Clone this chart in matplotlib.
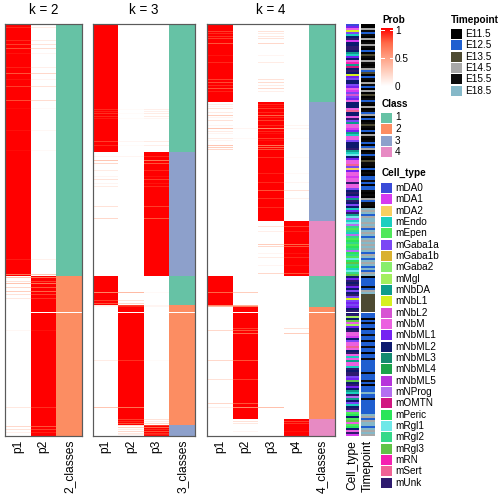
import numpy as np
import matplotlib
matplotlib.use('Agg')
import matplotlib.pyplot as plt
from matplotlib.colors import LinearSegmentedColormap, to_rgb
from matplotlib.patches import Rectangle

plt.rcParams['font.family'] = ['Liberation Sans', 'DejaVu Sans']

# ---------------- data ----------------
TOP, BOTTOM = 24, 436          # row span of the heatmaps (one row per pixel row)
N_ROWS = BOTTOM - TOP
WHITE_ROW = 312                 # a blank sample row

K2_COLS = ['p1', 'p2', '2_classes']
K3_COLS = ['p1', 'p2', 'p3', '3_classes']
K4_COLS = ['p1', 'p2', 'p3', 'p4', '4_classes']

# (row start, row end, class) ; class c has probability 1 in column p{c}
K2_SEGMENTS = [(24, 276, 1), (276, 436, 2)]
K3_SEGMENTS = [(24, 152, 1), (152, 276, 3), (276, 305, 1), (305, 425, 2), (425, 436, 3)]
K4_SEGMENTS = [(24, 102, 1), (102, 221, 3), (221, 276, 4), (276, 307, 1), (307, 419, 2), (419, 436, 4)]

# rows with mixed membership: (row, p1, p2, ...)
K2_STRIPES = [
    (27, .9, .1), (40, .9, .1), (44, .85, .15), (48, .82, .18), (53, .95, .05), (67, .92, .08),
    (73, .8, .2), (79, .95, .05), (86, .85, .15), (100, .82, .18), (108, .97, .03), (130, .96, .04),
    (150, .97, .03), (259, .93, .07), (274, .7, .3),
    (277, .3, .7), (281, .15, .85), (283, .3, .7), (287, .2, .8), (291, .25, .75), (294, .15, .85),
    (298, .12, .88), (330, .04, .96), (407, .12, .88), (426, .2, .8), (429, .15, .85), (432, .08, .92),
]
K3_STRIPES = [
    (109, .9, .02, .08), (111, .92, 0, .08), (113, .88, .02, .1), (116, .9, 0, .1), (118, .93, .02, .05),
    (141, .85, .05, .1), (145, .9, .02, .08),
    (156, .05, .05, .9), (160, .3, 0, .7), (163, .2, 0, .8), (170, .1, 0, .9), (176, .05, 0, .95),
    (179, .15, 0, .85), (183, .05, 0, .95), (186, .1, 0, .9), (206, .15, 0, .85), (218, .2, 0, .8),
    (292, .62, .35, .03), (300, .85, .15, 0), (303, .8, .2, 0),
    (305, .1, .85, .05), (306, .05, .9, .05), (360, .1, .88, .02), (407, .3, .7, 0),
    (419, 0, .85, .15), (421, 0, .9, .1), (423, 0, .8, .2),
    (425, 0, .15, .85), (427, 0, .25, .75), (429, 0, .1, .9), (431, 0, .2, .8), (433, 0, .12, .88),
    (434, 0, .08, .92),
]
K4_STRIPES = [
    (31, .85, 0, .15, 0), (33, .9, 0, .1, 0), (36, .88, 0, .12, 0), (38, .85, 0, .15, 0),
    (43, .8, 0, .2, 0), (55, .95, 0, .05, 0), (62, .9, 0, .1, 0), (79, .85, 0, .15, 0),
    (82, .82, 0, .18, 0), (85, .9, 0, .1, 0), (88, .8, 0, .2, 0), (91, .92, 0, .08, 0),
    (104, .1, 0, .9, 0), (106, .05, 0, .95, 0), (108, .15, 0, .85, 0), (112, .1, 0, .9, 0),
    (115, .25, 0, .75, 0), (117, .05, 0, .9, 0), (120, .15, 0, .85, 0), (125, .05, 0, .9, .05),
    (128, .3, .05, .6, .05), (131, .1, 0, .9, 0), (133, .05, 0, .95, 0), (138, .1, .03, .85, .02),
    (140, .05, 0, .95, 0), (145, .3, 0, .7, 0), (147, .25, 0, .75, 0), (149, .2, 0, .8, 0),
    (157, 0, 0, .88, .02), (173, 0, 0, .92, .03), (182, 0, 0, .9, .05), (190, 0, 0, .8, .15),
    (198, 0, 0, .88, .07), (207, 0, 0, .9, 0),
    (226, 0, 0, .15, .85), (231, 0, 0, .08, .92), (244, 0, 0, .25, .75), (246, 0, 0, .2, .8),
    (253, 0, 0, .05, .95), (257, 0, 0, .1, .9), (265, 0, 0, .05, .95), (273, 0, 0, .2, .8),
    (292, .75, .25, 0, 0), (305, .6, .4, 0, 0), (306, .35, .65, 0, 0),
    (328, 0, .85, 0, .15), (330, .2, .8, 0, 0), (333, 0, .75, 0, .25), (360, .2, .8, 0, 0),
    (379, .15, .85, 0, 0), (403, .2, .8, 0, 0), (407, .08, .6, .32, 0),
    (421, 0, .15, 0, .85), (423, 0, .12, 0, .88), (431, 0, .05, 0, .95),
]

CLASS_LABELS = ['1', '2', '3', '4']
CLASS_COLORS = ['#66C2A5', '#FC8D62', '#8DA0CB', '#E78AC3']

CELL_TYPES = ['mDA0', 'mDA1', 'mDA2', 'mEndo', 'mEpen', 'mGaba1a', 'mGaba1b', 'mGaba2', 'mMgl',
              'mNbDA', 'mNbL1', 'mNbL2', 'mNbM', 'mNbML1', 'mNbML2', 'mNbML3', 'mNbML4', 'mNbML5',
              'mNProg', 'mOMTN', 'mPeric', 'mRgl1', 'mRgl2', 'mRgl3', 'mRN', 'mSert', 'mUnk']
CELL_COLORS = ['#3A4BD8', '#D63AF0', '#F7CF60', '#1BCFC0', '#4FE85A', '#7B47F5', '#D9B12F',
               '#88EE6C', '#A3EF5E', '#0E9C8C', '#D6F020', '#D752D3', '#EB60E0', '#7522F2',
               '#0D1A6E', '#148A70', '#1BA34A', '#B634DB', '#B46EF0', '#D11580', '#2AE55A',
               '#6EE8E8', '#34D98A', '#61C447', '#F521B0', '#F06295', '#2E1A6E']
CELL_CODES = 'abcdefghijklmnopqrstuvwxyzZ'   # one letter per cell type, in CELL_TYPES order
# one letter per 2 sample rows, top to bottom
CELL_SEQ = ('anmkfdoZbo' 'oZZojdnomy' 'jtoZoknfoo' 'fnmbflfnmo' 'oomzoomZfj'
            'mmbnjdmmfo' 'ooZjdvonmm' 'zfcnmmbmmZ' 'mmfoZonjZo' 'fodnZjvsdv'
            'swewdsweuw' 'euwsuwevux' 'wudvwxonZo' 'ZnofoZfkfn' 'fnoZoZioxm'
            'inoZmmbofm' 'mzmoZmdmjm' 'mdZoZZfnxo' 'ZnojdZsjof' 'doZseuoexm'
            'euomZb')

TIMEPOINTS = ['E11.5', 'E12.5', 'E13.5', 'E14.5', 'E15.5', 'E18.5']
TIME_COLORS = ['#000000', '#1F5FD0', '#4D4A32', '#A8A8A8', '#0B0B0B', '#85B8C8']
# one digit (1..6) per 2 sample rows
TIME_SEQ = ('1145251415' '4512135145' '1542312514' '5214131525' '1415241215'
            '3512145152' '1241525135' '5121512252' '1225151425' '5164624664'
            '6426462646' '4646246264' '6262461222' '2524633333' '3333222125'
            '2212252212' '2522122522' '2222522252' '1222622522' '2222264246'
            '626464')

PROB_TICKS = [0, 0.5, 1]

# ---------------- drawing ----------------
prob_cmap = LinearSegmentedColormap.from_list(
    'prob', [(0, '#FFFFFF'), (0.25, '#FFCFBE'), (0.5, '#FF9E81'), (0.75, '#FF6847'), (1, '#FF0000')])

W = H = 504
fig = plt.figure(figsize=(7, 7), dpi=72)


def add_px_axes(x0, y0, x1, y1):
    return fig.add_axes([x0 / W, 1 - y1 / H, (x1 - x0) / W, (y1 - y0) / H])


def panel_rgb(segments, stripes, ncol):
    probs = np.zeros((N_ROWS, ncol))
    cls = np.zeros(N_ROWS, dtype=int)
    for y0, y1, c in segments:
        probs[y0 - TOP:y1 - TOP, c - 1] = 1.0
        cls[y0 - TOP:y1 - TOP] = c
    for s in stripes:
        probs[s[0] - TOP, :] = s[1:]
    rgb = np.ones((N_ROWS, ncol + 1, 3))
    rgb[:, :ncol] = prob_cmap(probs)[..., :3]
    rgb[:, ncol] = np.array([to_rgb(CLASS_COLORS[c - 1]) for c in cls])
    rgb[WHITE_ROW - TOP] = 1.0
    return rgb


panels = [
    (5, 82, K2_COLS, K2_SEGMENTS, K2_STRIPES, 'k = 2'),
    (93, 195, K3_COLS, K3_SEGMENTS, K3_STRIPES, 'k = 3'),
    (207, 335, K4_COLS, K4_SEGMENTS, K4_STRIPES, 'k = 4'),
]
for x0, x1, cols, segs, stripes, title in panels:
    ncol = len(cols) - 1
    ax = add_px_axes(x0, TOP, x1, BOTTOM)
    ax.imshow(panel_rgb(segs, stripes, ncol), aspect='auto', interpolation='nearest',
              extent=(0, ncol + 1, N_ROWS, 0))
    ax.set_xticks(np.arange(ncol + 1) + 0.5)
    ax.set_xticklabels(cols, rotation=90, fontsize=12)
    ax.set_yticks([])
    ax.tick_params(length=0, pad=4)
    for sp in ax.spines.values():
        sp.set_color('#5a5a5a')
        sp.set_linewidth(1.2)
    fig.text((x0 + x1) / 2 / W, 1 - 10 / H, title, ha='center', va='center', fontsize=13.5)


def expand(seq, lookup):
    cols = [lookup[ch] for ch in seq for _ in range(2)]
    cols = (cols + [cols[-1]] * N_ROWS)[:N_ROWS]
    arr = np.array(cols)[:, None, :]
    arr[WHITE_ROW - TOP] = 1.0
    return arr


cell_lookup = {c: to_rgb(col) for c, col in zip(CELL_CODES, CELL_COLORS)}
time_lookup = {str(i + 1): to_rgb(col) for i, col in enumerate(TIME_COLORS)}
for (x0, x1), seq, lookup, label in [((346, 359), CELL_SEQ, cell_lookup, 'Cell_type'),
                                      ((361, 375), TIME_SEQ, time_lookup, 'Timepoint')]:
    ax = add_px_axes(x0, TOP, x1, BOTTOM)
    ax.imshow(expand(seq, lookup), aspect='auto', interpolation='nearest',
              extent=(0, 1, N_ROWS, 0))
    ax.set_xticks([0.5])
    ax.set_xticklabels([label], rotation=90, fontsize=12)
    ax.set_yticks([])
    ax.tick_params(length=0, pad=4)
    for sp in ax.spines.values():
        sp.set_visible(False)

# ---------------- legends ----------------
lg = fig.add_axes([0, 0, 1, 1])
lg.axis('off')
gy0, gy1 = 28, 86
lg.imshow(np.linspace(1, 0, 200)[:, None], cmap=prob_cmap, vmin=0, vmax=1, aspect='auto',
          extent=(381, 393, gy1, gy0))
lg.text(382, 20, 'Prob', fontsize=10, fontweight='bold', va='center', ha='left')
for v in PROB_TICKS:
    yy = gy1 - v * (gy1 - gy0 - 2)
    if v > 0:
        lg.plot([381, 384], [yy, yy], color='white', lw=1)
        lg.plot([390, 393], [yy, yy], color='white', lw=1)
    lg.text(395, yy + 1, f'{v:g}', fontsize=10, va='center', ha='left')

lg.text(382, 104, 'Class', fontsize=10, fontweight='bold', va='center', ha='left')
for i, (lab, col) in enumerate(zip(CLASS_LABELS, CLASS_COLORS)):
    yc = 117.5 + i * 11.5
    lg.add_patch(Rectangle((381, yc - 5), 11, 10, facecolor=col, edgecolor='none'))
    lg.text(395, yc, lab, fontsize=10, va='center', ha='left')

lg.text(382, 173, 'Cell_type', fontsize=10, fontweight='bold', va='center', ha='left')
for i, (lab, col) in enumerate(zip(CELL_TYPES, CELL_COLORS)):
    yc = 188 + i * 11.33
    lg.add_patch(Rectangle((381, yc - 5), 11, 10, facecolor=col, edgecolor='none'))
    lg.text(395, yc, lab, fontsize=10, va='center', ha='left')

lg.text(451, 20, 'Timepoint', fontsize=10, fontweight='bold', va='center', ha='left')
for i, (lab, col) in enumerate(zip(TIMEPOINTS, TIME_COLORS)):
    yc = 34 + i * 11.33
    lg.add_patch(Rectangle((451, yc - 5), 11, 10, facecolor=col, edgecolor='none'))
    lg.text(465, yc, lab, fontsize=10, va='center', ha='left')

lg.set_xlim(0, W)
lg.set_ylim(H, 0)

fig.savefig('out.png', dpi=72)
